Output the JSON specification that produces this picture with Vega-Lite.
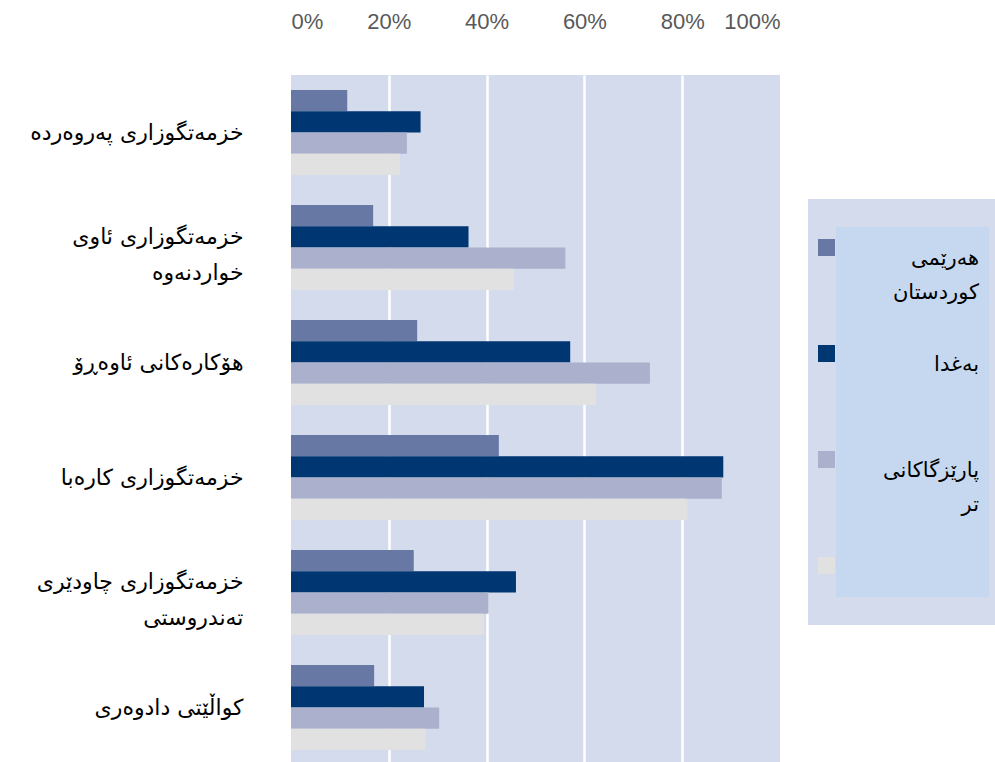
{
  "$schema": "https://vega.github.io/schema/vega-lite/v6.json",
  "autosize": "none",
  "padding": {"left": 291, "top": 75, "right": 215, "bottom": 0},
  "width": 489,
  "height": 690,
  "background": "white",
  "config": {
    "view": {"fill": "#d3dbed", "stroke": null},
    "font": "DejaVu Sans",
    "legend": {"strokeWidth": 28},
    "style": {"guide-label": {"lineHeight": 34}}
  },
  "data": {
    "values": [
      {"cat": "خزمەتگوزاری پەروەردە", "series": "هەرێمی|کوردستان", "value": 0.115},
      {"cat": "خزمەتگوزاری پەروەردە", "series": "بەغدا", "value": 0.265},
      {"cat": "خزمەتگوزاری پەروەردە", "series": "پارێزگاکانی|تر", "value": 0.237},
      {"cat": "خزمەتگوزاری پەروەردە", "series": " ", "value": 0.223},
      {"cat": "خزمەتگوزاری ئاوی|خواردنەوە", "series": "هەرێمی|کوردستان", "value": 0.168},
      {"cat": "خزمەتگوزاری ئاوی|خواردنەوە", "series": "بەغدا", "value": 0.363},
      {"cat": "خزمەتگوزاری ئاوی|خواردنەوە", "series": "پارێزگاکانی|تر", "value": 0.561},
      {"cat": "خزمەتگوزاری ئاوی|خواردنەوە", "series": " ", "value": 0.456},
      {"cat": "هۆکارەکانی ئاوەڕۆ", "series": "هەرێمی|کوردستان", "value": 0.258},
      {"cat": "هۆکارەکانی ئاوەڕۆ", "series": "بەغدا", "value": 0.571},
      {"cat": "هۆکارەکانی ئاوەڕۆ", "series": "پارێزگاکانی|تر", "value": 0.734},
      {"cat": "هۆکارەکانی ئاوەڕۆ", "series": " ", "value": 0.624},
      {"cat": "خزمەتگوزاری کارەبا", "series": "هەرێمی|کوردستان", "value": 0.425},
      {"cat": "خزمەتگوزاری کارەبا", "series": "بەغدا", "value": 0.884},
      {"cat": "خزمەتگوزاری کارەبا", "series": "پارێزگاکانی|تر", "value": 0.881},
      {"cat": "خزمەتگوزاری کارەبا", "series": " ", "value": 0.81},
      {"cat": "خزمەتگوزاری چاودێری|تەندروستی", "series": "هەرێمی|کوردستان", "value": 0.251},
      {"cat": "خزمەتگوزاری چاودێری|تەندروستی", "series": "بەغدا", "value": 0.46},
      {"cat": "خزمەتگوزاری چاودێری|تەندروستی", "series": "پارێزگاکانی|تر", "value": 0.404},
      {"cat": "خزمەتگوزاری چاودێری|تەندروستی", "series": " ", "value": 0.394},
      {"cat": "کواڵێتی دادوەری", "series": "هەرێمی|کوردستان", "value": 0.17},
      {"cat": "کواڵێتی دادوەری", "series": "بەغدا", "value": 0.272},
      {"cat": "کواڵێتی دادوەری", "series": "پارێزگاکانی|تر", "value": 0.303},
      {"cat": "کواڵێتی دادوەری", "series": " ", "value": 0.275}
    ]
  },
  "mark": {"type": "bar", "stroke": null},
  "encoding": {
    "y": {
      "field": "cat",
      "type": "nominal",
      "sort": null,
      "scale": {"paddingInner": 0.26, "paddingOuter": 0.13},
      "axis": {
        "title": null,
        "domain": false,
        "ticks": false,
        "labelPadding": 48,
        "labelFontSize": 22,
        "labelColor": "#000000",
        "labelFont": "DejaVu Sans",
        "labelLineHeight": 36,
        "labelLimit": 400,
        "labelOffset": {"condition": {"test": "indexof(datum.value, '|') >= 0", "value": -11}, "value": 0},
        "labelExpr": "split(datum.label, '|')"
      }
    },
    "yOffset": {
      "field": "series",
      "type": "nominal",
      "sort": ["هەرێمی|کوردستان", "بەغدا", "پارێزگاکانی|تر", " "],
      "scale": {"paddingInner": 0, "paddingOuter": 0}
    },
    "x": {
      "field": "value",
      "type": "quantitative",
      "scale": {"domain": [0, 1], "nice": false},
      "axis": {
        "orient": "top",
        "title": null,
        "values": [0, 0.2, 0.4, 0.6, 0.8, 1],
        "format": ".0%",
        "domain": false,
        "ticks": false,
        "labelPadding": 42,
        "labelFontSize": 22,
        "labelFont": "Liberation Sans",
        "labelColor": "#595959",
        "grid": true,
        "gridColor": {"condition": {"test": "datum.value == 0 || datum.value == 1", "value": "transparent"}, "value": "#ffffff"},
        "gridWidth": 2.5
      }
    },
    "color": {
      "field": "series",
      "type": "nominal",
      "scale": {
        "domain": ["هەرێمی|کوردستان", "بەغدا", "پارێزگاکانی|تر", " "],
        "range": ["#6778a4", "#003671", "#abb1cc", "#e1e1e1"]
      },
      "legend": {
        "title": null,
        "orient": "none",
        "legendX": 531,
        "legendY": 138,
        "fillColor": "#c6d8ef",
        "strokeColor": "#d3dbed",
        "padding": 24,
        "gridAlign": "all",
        "symbolType": "square",
        "symbolSize": 289,
        "symbolStrokeWidth": 0,
        "symbolOffset": -30,
        "labelFontSize": 21,
        "labelFont": "DejaVu Sans",
        "labelColor": "#000000",
        "labelAlign": "right",
        "labelBaseline": "top",
        "labelOffset": 142,
        "labelLimit": 300,
        "rowPadding": 40,
        "labelExpr": "split(datum.label, '|')"
      }
    }
  }
}
